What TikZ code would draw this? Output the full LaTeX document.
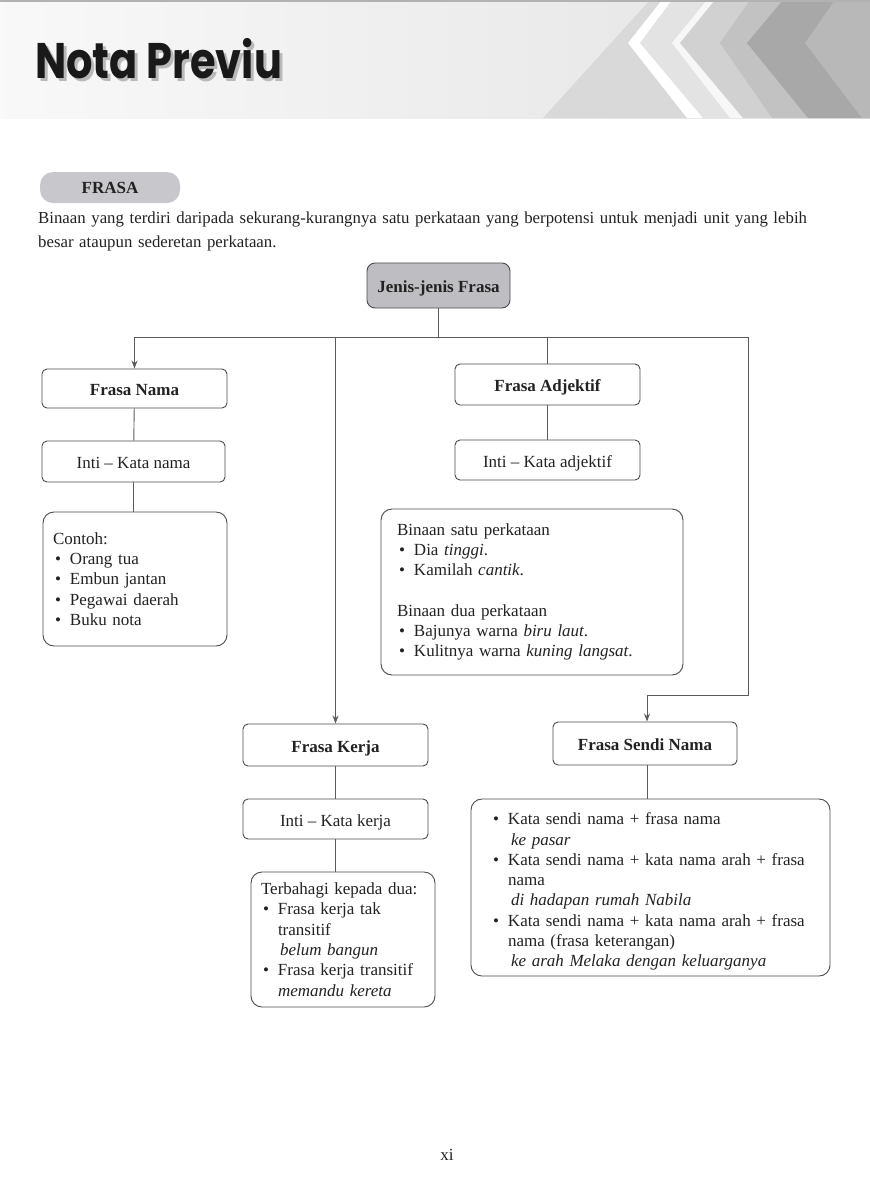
\documentclass[tikz,border=0pt]{standalone}
\usepackage{fontspec}
\setmainfont{Liberation Serif}
\newfontfamily\titlefont{Poppins}
\usetikzlibrary{arrows.meta}
\definecolor{boxline}{HTML}{4A4A4A}
\definecolor{headgrey}{HTML}{BEBEC2}
\definecolor{pillgrey}{HTML}{C8C8CC}
\definecolor{inkgrey}{HTML}{222222}
\setlength{\parindent}{0pt}
\newcommand{\itm}{\par\hangindent=17pt\hangafter=1\makebox[17pt][l]{\hspace{2pt}\textbullet}}
\begin{document}
\begin{tikzpicture}[x=1pt,y=-1pt,
    every node/.style={font=\fontsize{17}{20.3}\selectfont,text=inkgrey},
    box/.style={draw=boxline,line width=.9pt,rounded corners=5pt,fill=white,
        minimum width=#1,minimum height=40pt,inner sep=0pt,text height=15pt,text depth=1pt},
    headbox/.style={box=#1,fill=headgrey,font=\fontsize{17}{20}\selectfont\bfseries},
    titlebox/.style={box=#1,font=\fontsize{17}{20}\selectfont\bfseries},
    textbox/.style={draw=boxline,line width=.9pt,rounded corners=11pt,fill=white,
        align=left,text width=#1,inner xsep=10pt,inner ysep=0pt},
    link/.style={draw=boxline!90,line width=.9pt},
    arrowlink/.style={link,-{Stealth[length=8pt,width=6pt]}}]
\useasboundingbox (0,0) rectangle (870,1200);
% header band
\shade[left color=gray!5,right color=gray!22] (0,0) rectangle (870,118);
\fill[gray!30] (543,118) -- (650,0) -- (870,0) -- (870,118) -- cycle;
\fill[white] (662,0) -- (628,43) -- (687,118) -- (870,118) -- (870,0) -- cycle;
\fill[gray!22] (672,0) -- (640,43) -- (703,118) -- (870,118) -- (870,0) -- cycle;
\fill[gray!6] (707,0) -- (672,43) -- (730,118) -- (870,118) -- (870,0) -- cycle;
\fill[gray!36] (715,0) -- (680,43) -- (743,118) -- (870,118) -- (870,0) -- cycle;
\fill[gray!48] (750,0) -- (720,43) -- (772,118) -- (870,118) -- (870,0) -- cycle;
\fill[gray!68] (783,0) -- (747,43) -- (808,118) -- (870,118) -- (870,0) -- cycle;
\fill[gray!56] (835,0) -- (805,43) -- (862,118) -- (870,118) -- (870,0) -- cycle;
\draw[gray!60,line width=2pt] (0,1) -- (870,1);
\node[anchor=base west,inner sep=0pt,text=gray!55,xscale=.83,
    font=\titlefont\bfseries\fontsize{50}{54}\selectfont] (titleshadow) at (38,81) {Nota Previu};
\node[anchor=base west,inner sep=0pt,text=black!90,xscale=.83,
    font=\titlefont\bfseries\fontsize{50}{54}\selectfont] (title) at (35,78) {Nota Previu};
% intro
\node[fill=pillgrey,rounded corners=13pt,minimum width=140pt,minimum height=31pt,
    font=\fontsize{17}{20}\selectfont\bfseries] (frasa) at (110,187.5) {FRASA};
\node[anchor=base west,inner sep=0pt,align=left,text width=820pt,
    font=\fontsize{16.8}{24}\selectfont] (intro) at (38,223)
    {Binaan yang terdiri daripada sekurang-kurangnya satu perkataan yang berpotensi untuk menjadi unit yang lebih\\
     besar ataupun sederetan perkataan.};
% chart
\node[headbox=143pt,minimum height=45pt,rounded corners=8pt] (jenis) at (438.5,285.5) {Jenis-jenis Frasa};
\node[titlebox=185pt,minimum height=39pt] (nama) at (134.5,388.5) {Frasa Nama};
\node[box=183pt,minimum height=41pt] (intinama) at (133.5,461.5) {Inti -- Kata nama};
\node[textbox=164pt,minimum height=134pt] (contoh) at (135,579)
    {Contoh:\itm Orang tua\itm Embun jantan\itm Pegawai daerah\itm Buku nota\par};
\node[titlebox=185pt,minimum height=41pt] (adjektif) at (547.5,384.5) {Frasa Adjektif};
\node[box=185pt] (intiadj) at (547.5,460) {Inti -- Kata adjektif};
\node[textbox=270pt,minimum height=166pt,inner xsep=16pt] (binaan) at (532,592)
    {Binaan satu perkataan\itm Dia \textit{tinggi}.\itm Kamilah \textit{cantik}.\par\vspace{20pt}
     Binaan dua perkataan\itm Bajunya warna \textit{biru laut}.\itm Kulitnya warna \textit{kuning langsat}.\par};
\node[titlebox=185pt,minimum height=42pt] (kerja) at (335.5,745) {Frasa Kerja};
\node[box=185pt] (intikerja) at (335.5,819) {Inti -- Kata kerja};
\node[textbox=164pt,minimum height=135pt] (terbahagi) at (343,939.5)
    {Terbahagi kepada dua:\itm Frasa kerja tak\newline transitif\newline\hspace*{2pt}\textit{belum bangun}\itm Frasa kerja transitif\newline\textit{memandu kereta}\par};
\node[titlebox=184pt,minimum height=43pt] (sendi) at (645,743.5) {Frasa Sendi Nama};
\node[textbox=319pt,minimum height=177pt,inner xsep=20pt] (sendibox) at (650.5,887.5)
    {\itm Kata sendi nama + frasa nama\newline\hspace*{3pt}\textit{ke pasar}
     \itm Kata sendi nama + kata nama arah + frasa\newline nama\newline\hspace*{3pt}\textit{di hadapan rumah Nabila}
     \itm Kata sendi nama + kata nama arah + frasa\newline nama (frasa keterangan)\newline\hspace*{3pt}\textit{ke arah Melaka dengan keluarganya}\par};
\node (page) at (447,1155) {xi};
% connectors
\coordinate (busR) at (748,337);
\coordinate (turn) at (748,695);
\draw[link] (jenis.south) -- (jenis.south |- busR);
\draw[link] (nama.north |- busR) -- (busR);
\draw[arrowlink] (nama.north |- busR) -- (nama.north);
\draw[arrowlink] (kerja.north |- busR) -- (kerja.north);
\draw[link] (adjektif.north |- busR) -- (adjektif.north);
\draw[arrowlink] (busR) -- (turn) -| ([xshift=2pt]sendi.north);
\draw[link] (nama) -- (intinama);
\draw[link] (intinama.south) -- (intinama.south |- contoh.north);
\draw[link] (adjektif) -- (intiadj);
\draw[link] (kerja) -- (intikerja);
\draw[link] (intikerja.south) -- (intikerja.south |- terbahagi.north);
\draw[link] ([xshift=2pt]sendi.south) -- ([xshift=2pt]sendi.south |- sendibox.north);
\end{tikzpicture}
\end{document}
